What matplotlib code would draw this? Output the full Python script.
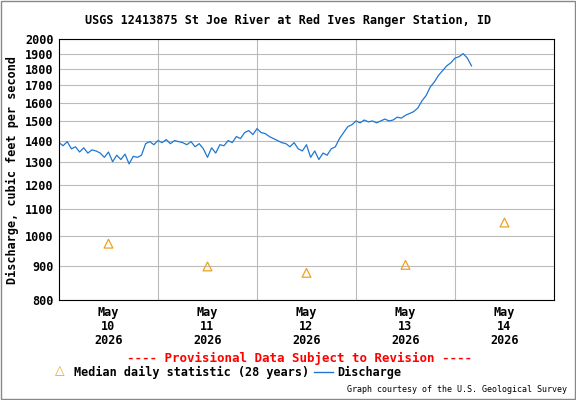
import matplotlib
matplotlib.use('Agg')
import matplotlib.pyplot as plt
from matplotlib.ticker import FixedLocator, NullLocator
import datetime as dt

# hourly discharge, starting 2026-05-09 12:00
discharge = [1390, 1375, 1395, 1360, 1370, 1345, 1365, 1340, 1355, 1350, 1340,
             1320, 1345, 1300, 1330, 1310, 1335, 1290, 1325, 1320, 1330,
             1385, 1395, 1380, 1400, 1390, 1405, 1385, 1400, 1395, 1390,
             1380, 1395, 1370, 1385, 1360, 1320, 1365, 1340, 1380, 1375,
             1400, 1390, 1420, 1410, 1440, 1450, 1430, 1460, 1440, 1435,
             1420, 1410, 1400, 1390, 1385, 1370, 1390, 1360, 1350, 1380,
             1320, 1350, 1310, 1340, 1330, 1360, 1370, 1410, 1440, 1470,
             1480, 1500, 1490, 1505, 1495, 1500, 1490, 1500, 1510, 1500,
             1505, 1520, 1515, 1530, 1540, 1550, 1570, 1610, 1640, 1690,
             1720, 1760, 1790, 1820, 1840, 1870, 1880, 1900, 1870, 1820]
median_days = [10, 11, 12, 13, 14]
median_vals = [975, 900, 880, 905, 1050]

start = dt.datetime(2026, 5, 9, 12)
times = [start + dt.timedelta(hours=i) for i in range(len(discharge))]
med_times = [dt.datetime(2026, 5, d) for d in median_days]

mono = 'DejaVu Sans Mono'
fig = plt.figure(figsize=(5.76, 4), dpi=100)
ax = fig.add_axes([0.1024, 0.25, 0.8594, 0.6525])
ax.plot(times, discharge, color='#1f77d0', lw=0.9)
ax.scatter(med_times, median_vals, marker='^', s=40, facecolors='none',
           edgecolors='#f0a020', lw=0.9, zorder=3)

ax.set_yscale('log')
ax.set_ylim(800, 2000)
yt = list(range(800, 2001, 100))
ax.yaxis.set_major_locator(FixedLocator(yt))
ax.yaxis.set_minor_locator(NullLocator())
ax.set_yticklabels([str(v) for v in yt], fontfamily=mono, fontsize=8.5, fontweight='bold')
ax.set_xlim(dt.datetime(2026, 5, 9, 12), dt.datetime(2026, 5, 14, 12))
ax.set_xticks(med_times)
ax.set_xticklabels(['May\n%d\n2026' % d for d in median_days], fontfamily=mono,
                   fontsize=8.5, fontweight='bold', linespacing=1.1)
ax.set_xticks([dt.datetime(2026, 5, d, 12) for d in range(10, 14)], minor=True)
ax.grid(True, which='major', axis='y', color='#bbbbbb', lw=0.8)
ax.grid(True, which='minor', axis='x', color='#bbbbbb', lw=0.8)
ax.tick_params(which='both', length=0, pad=4)
ax.set_ylabel('Discharge, cubic feet per second', fontfamily=mono,
              fontsize=8.5, fontweight='bold')
for s in ax.spines.values():
    s.set_color('black')

fig.patches.append(plt.Rectangle((0.001, 0.002), 0.997, 0.996, fill=False, ec='#888888',
                                 lw=1, transform=fig.transFigure))
fig.text(0.5, 0.95, 'USGS 12413875 St Joe River at Red Ives Ranger Station, ID',
         ha='center', va='center', fontfamily=mono, fontsize=8.5, fontweight='bold')
fig.text(0.52, 0.105, '---- Provisional Data Subject to Revision ----', color='red',
         ha='center', va='center', fontfamily=mono, fontsize=9, fontweight='bold')
fig.text(0.128, 0.07, 'Median daily statistic (28 years)', ha='left', va='center',
         fontfamily=mono, fontsize=8.5, fontweight='bold')
fig.text(0.585, 0.07, 'Discharge', ha='left', va='center',
         fontfamily=mono, fontsize=8.5, fontweight='bold')
fig.lines.append(plt.Line2D([0.545, 0.578], [0.07, 0.07], color='#1f77d0', lw=1,
                            transform=fig.transFigure))
fig.text(0.104, 0.072, '\u25b3', color='#f0a020', ha='center', va='center', fontsize=9)
fig.text(0.985, 0.025, 'Graph courtesy of the U.S. Geological Survey', ha='right',
         va='center', fontfamily=mono, fontsize=6)

fig.savefig('out.png', dpi=100)
